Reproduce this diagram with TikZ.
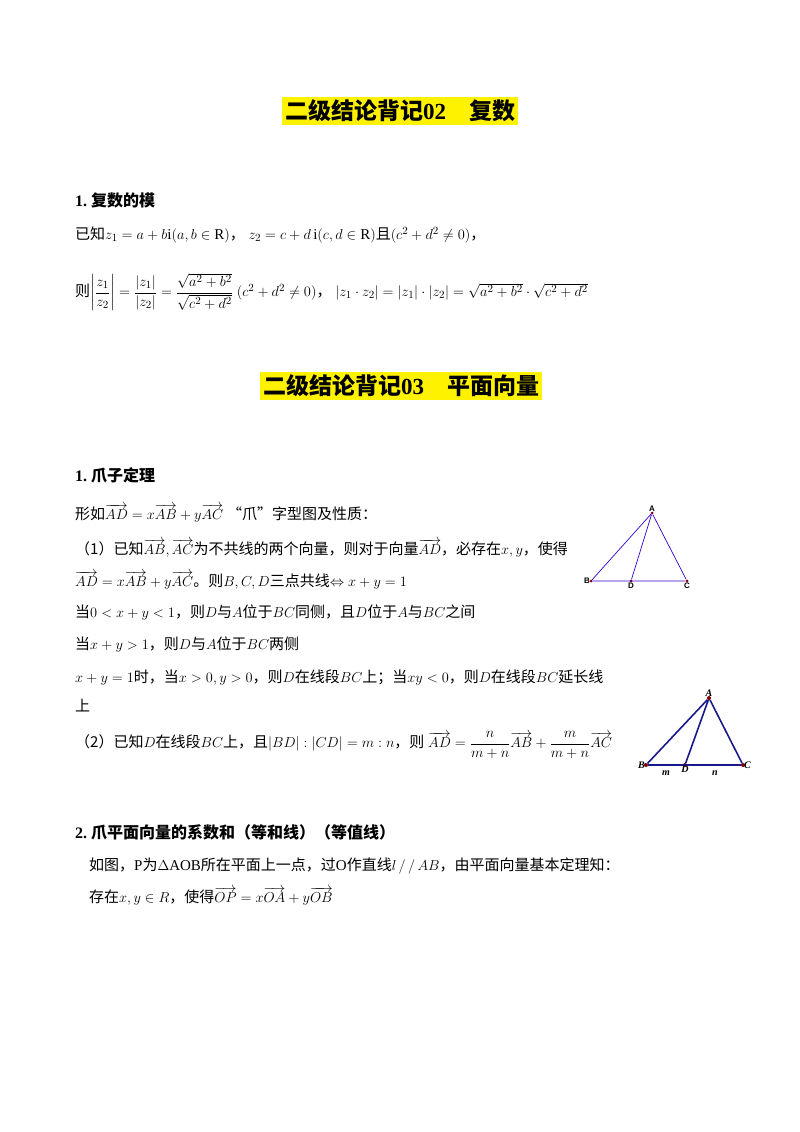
\documentclass[tikz,border=0pt]{standalone}
\usepackage{amsmath,amssymb}
\usepackage{fontspec}
\setmainfont{Liberation Serif}
\newfontfamily\cjk{Noto Sans CJK SC}
\newfontfamily\cjkb{Noto Sans CJK SC Bold}
\newfontfamily\lsans{Liberation Sans}
\begin{document}
\begin{tikzpicture}[x=1pt,y=-1pt,
  txt/.style={anchor=west,inner sep=0pt,font=\fontsize{15}{17}\selectfont},
  head/.style={anchor=west,inner sep=0pt,font=\fontsize{16}{18}\selectfont\bfseries},
  ttl/.style={fill=yellow,inner sep=3pt,font=\fontsize{23}{26}\selectfont\bfseries},
  tri/.style={draw=blue!60!violet,line width=0.7pt},
  trib/.style={draw=blue!50!black!90,line width=1.6pt},
  pt/.style={circle,fill=red!50!black,inner sep=0pt,minimum size=3pt},
  lab/.style={font=\lsans\bfseries\fontsize{8}{9}\selectfont,inner sep=1pt},
  labi/.style={font=\bfseries\itshape\fontsize{10}{11}\selectfont,inner sep=1pt}]
\useasboundingbox (0,0) rectangle (800,1132);
\node[ttl] (t1) at (400,111) {{\cjkb 二级结论背记}02\quad{\cjkb 复数}};
\node[head] (h1) at (75,200) {1.\ {\cjkb 复数的模}};
\node[txt] (l1) at (75,235) {{\cjk 已知}$z_1=a+b\mathrm{i}(a,b\in\mathrm{R})${\cjk ，}\ $z_2=c+d\,\mathrm{i}(c,d\in\mathrm{R})${\cjk 且}$(c^2+d^2\neq0)${\cjk ，}};
\node[txt] (l2) at (75,292) {{\cjk 则}$\left|\dfrac{z_1}{z_2}\right|=\dfrac{|z_1|}{|z_2|}=\dfrac{\sqrt{a^2+b^2}}{\sqrt{c^2+d^2}}\ (c^2+d^2\neq0)${\cjk ，}\ $|z_1\cdot z_2|=|z_1|\cdot|z_2|=\sqrt{a^2+b^2}\cdot\sqrt{c^2+d^2}$};
\node[ttl] (t2) at (401,386) {{\cjkb 二级结论背记}03\quad{\cjkb 平面向量}};
\node[head] (h2) at (75,475) {1.\ {\cjkb 爪子定理}};
\node[txt] (a1) at (75,513) {{\cjk 形如}$\overrightarrow{AD}=x\overrightarrow{AB}+y\overrightarrow{AC}$\ {\cjk “爪”字型图及性质：}};
\node[txt] (a2) at (75,548) {{\cjk （1）已知}$\overrightarrow{AB},\overrightarrow{AC}${\cjk 为不共线的两个向量，则对于向量}$\overrightarrow{AD}${\cjk ，必存在}$x,y${\cjk ，使得}};
\node[txt] (a3) at (75,580) {$\overrightarrow{AD}=x\overrightarrow{AB}+y\overrightarrow{AC}${\cjk 。则}$B,C,D${\cjk 三点共线}$\Leftrightarrow x+y=1$};
\node[txt] (a4) at (75,613) {{\cjk 当}$0<x+y<1${\cjk ，则}$D${\cjk 与}$A${\cjk 位于}$BC${\cjk 同侧，且}$D${\cjk 位于}$A${\cjk 与}$BC${\cjk 之间}};
\node[txt] (a5) at (75,645) {{\cjk 当}$x+y>1${\cjk ，则}$D${\cjk 与}$A${\cjk 位于}$BC${\cjk 两侧}};
\node[txt] (a6) at (75,678) {$x+y=1${\cjk 时，当}$x>0,y>0${\cjk ，则}$D${\cjk 在线段}$BC${\cjk 上；当}$xy<0${\cjk ，则}$D${\cjk 在线段}$BC${\cjk 延长线}};
\node[txt] (a7) at (75,706) {\cjk 上};
\node[txt] (a8) at (75,745) {{\cjk （2）已知}$D${\cjk 在线段}$BC${\cjk 上，且}$|BD|:|CD|=m:n${\cjk ，则}\ $\overrightarrow{AD}=\dfrac{n}{m+n}\overrightarrow{AB}+\dfrac{m}{m+n}\overrightarrow{AC}$};
\node[head] (h3) at (75,832) {2.\ {\cjkb 爪平面向量的系数和（等和线）（等值线）}};
\node[txt] (b1) at (89,866) {{\cjk 如图，}$\mathrm{P}${\cjk 为}$\Delta\mathrm{AOB}${\cjk 所在平面上一点，过}$\mathrm{O}${\cjk 作直线}$l\,/\,/\,AB${\cjk ，由平面向量基本定理知：}};
\node[txt] (b2) at (89,896) {{\cjk 存在}$x,y\in R${\cjk ，使得}$\overrightarrow{OP}=x\overrightarrow{OA}+y\overrightarrow{OB}$};
% triangle 1
\node[pt] (A) at (652,513) {}; \node[pt] (B) at (591,581) {};
\node[pt] (D) at (631,581) {}; \node[pt] (C) at (687,581) {};
\draw[tri] (A)--(B)--(C)--(A) (A)--(D);
\node[lab,above] at (A) {A}; \node[lab,left] at (B) {B};
\node[lab,below=1pt] at (D) {D}; \node[lab,below=1pt] at (C) {C};
% triangle 2
\node[pt,minimum size=4pt] (A2) at (709,698) {}; \node[pt,minimum size=4pt] (B2) at (646,765) {};
\node[pt,minimum size=4pt] (D2) at (685,765) {}; \node[pt,minimum size=4pt] (C2) at (743,765) {};
\draw[trib] (A2)--(B2)--(C2)--(A2) (A2)--(D2);
\node[labi,above] at (A2) {A}; \node[labi,left] at (B2) {B};
\node[labi,below] at (D2) {D}; \node[labi,right] at (C2) {C};
\node[labi] (m) at (666,773) {m}; \node[labi] (n) at (715,773) {n};
\end{tikzpicture}
\end{document}
